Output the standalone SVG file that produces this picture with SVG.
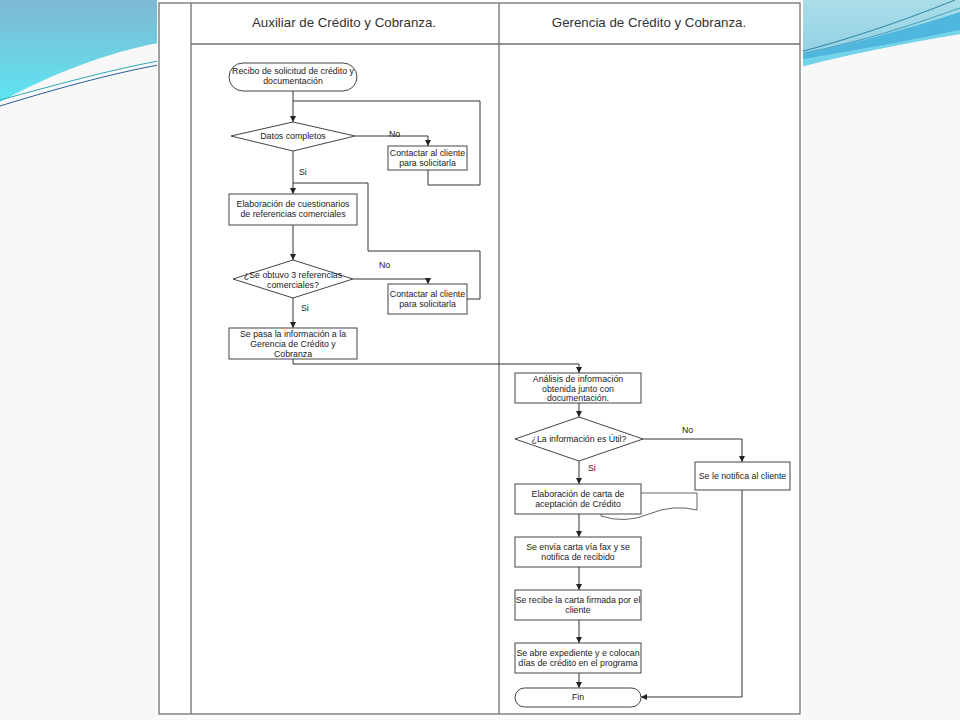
<svg xmlns="http://www.w3.org/2000/svg" width="960" height="720" viewBox="0 0 960 720">
<defs>
<linearGradient id="gl" x1="0" y1="0" x2="0" y2="1">
<stop offset="0" stop-color="#7fb8d2"/>
<stop offset="1" stop-color="#5de6f2"/>
</linearGradient>
<linearGradient id="gr" x1="0" y1="0" x2="0" y2="1">
<stop offset="0" stop-color="#a9dde8"/>
<stop offset="1" stop-color="#8fcfe4"/>
</linearGradient>
<marker id="ah" viewBox="0 0 10 10" refX="10" refY="5" markerWidth="6" markerHeight="6" markerUnits="userSpaceOnUse" orient="auto">
<path d="M0,0 L10,5 L0,10 Z" fill="#222"/>
</marker>
<style>
.frame{fill:none;stroke:#707070;stroke-width:1.3}
.node{fill:#fff;stroke:#444;stroke-width:1}
.doc{fill:#fff;stroke:#555;stroke-width:0.9}
.c{fill:none;stroke:#333;stroke-width:1}
.ca{fill:none;stroke:#333;stroke-width:1;marker-end:url(#ah)}
.hd{font-family:"Liberation Sans",Arial,sans-serif;font-size:13.3px;fill:#333;text-anchor:middle}
.t{font-family:"Liberation Sans",Arial,sans-serif;font-size:8.8px;fill:#222;text-anchor:middle}
.lb{font-family:"Liberation Sans",Arial,sans-serif;font-size:8.8px;fill:#222}
</style>
</defs>

<!-- slide background -->
<rect x="0" y="0" width="960" height="720" fill="#f8f8f8"/>
<path d="M0,0 H158 V43 C110,52 55,72 0,102 Z" fill="url(#gl)"/>
<path d="M0,100 C55,85 110,70 158,61" fill="none" stroke="#2aa7b6" stroke-width="1"/>
<path d="M0,106 C55,89 110,74 158,65" fill="none" stroke="#2b5c9c" stroke-width="1"/>
<path d="M800,0 H960 V34 C900,44 850,54 800,67 Z" fill="url(#gr)"/>
<path d="M800,55 C860,42 910,28 960,12 V30 C905,42 855,50 800,60 Z" fill="#4fb6dd"/>
<path d="M800,60 C855,50 905,42 960,30 V34 C900,44 850,54 800,67 Z" fill="#73d3e9"/>
<path d="M800,52 C860,36 910,18 955,0" fill="none" stroke="#1f7c9c" stroke-width="0.9"/>
<path d="M800,54 C870,40 920,22 960,8" fill="none" stroke="#2a8fb0" stroke-width="0.8"/>

<!-- diagram sheet -->
<rect x="157" y="0" width="646" height="718" fill="#fff"/>
<g id="frame">
<rect class="frame" x="159" y="3" width="641" height="711"/>
<line class="frame" x1="191" y1="3" x2="191" y2="714"/>
<line class="frame" x1="499" y1="3" x2="499" y2="714"/>
<line class="frame" x1="191" y1="44" x2="800" y2="44"/>
<text class="hd" x="344" y="27">Auxiliar de Crédito y Cobranza.</text>
<text class="hd" x="649" y="27">Gerencia de Crédito y Cobranza.</text>
</g>

<g id="connectors">
<path class="ca" d="M293,91 V122"/>
<path class="c" d="M428,170 V185 H480 V101 H293"/>
<path class="ca" d="M355,136 H428 V146"/>
<path class="ca" d="M293,151 V194"/>
<path class="c" d="M467,299 H480 V251 H368 V183 H293"/>
<path class="ca" d="M293,225 V260"/>
<path class="ca" d="M353,279 H428 V284"/>
<path class="ca" d="M293,298 V328"/>
<path class="ca" d="M293,359 V364 H579 V373"/>
<path class="ca" d="M579,403 V417"/>
<path class="ca" d="M643,439 H742 V462"/>
<path class="ca" d="M579,461 V484"/>
<path class="ca" d="M579,514 V537"/>
<path class="ca" d="M579,567 V590"/>
<path class="ca" d="M579,620 V643"/>
<path class="ca" d="M579,673 V688"/>
<path class="ca" d="M742,490 V697 H641"/>
<text class="lb" x="389" y="137">No</text>
<text class="lb" x="299" y="175">Si</text>
<text class="lb" x="379" y="268">No</text>
<text class="lb" x="301" y="311">Si</text>
<text class="lb" x="682" y="433">No</text>
<text class="lb" x="588" y="471">Si</text>
</g>

<g id="start">
<rect class="node" x="229" y="63" width="128" height="28" rx="14"/>
<text class="t" x="293" y="74">Recibo de solicitud de crédito y</text>
<text class="t" x="293" y="84">documentación</text>
</g>
<g id="datos">
<polygon class="node" points="231,136 293,122 355,136 293,151"/>
<text class="t" x="293" y="139">Datos completos</text>
</g>
<g id="contactar1">
<rect class="node" x="388" y="146" width="79" height="24"/>
<text class="t" x="427.5" y="156">Contactar al cliente</text>
<text class="t" x="427.5" y="166">para solicitarla</text>
</g>
<g id="cuestionarios">
<rect class="node" x="229" y="194" width="128" height="31"/>
<text class="t" x="293" y="207">Elaboración de cuestionarios</text>
<text class="t" x="293" y="217">de referencias comerciales</text>
</g>
<g id="referencias">
<polygon class="node" points="233,279 293,260 353,279 293,298"/>
<text class="t" x="293" y="278">¿Se obtuvo 3 referencias</text>
<text class="t" x="293" y="288">comerciales?</text>
</g>
<g id="contactar2">
<rect class="node" x="388" y="284" width="79" height="30"/>
<text class="t" x="427.5" y="297">Contactar al cliente</text>
<text class="t" x="427.5" y="307">para solicitarla</text>
</g>
<g id="pasa">
<rect class="node" x="229" y="328" width="128" height="31"/>
<text class="t" x="293" y="337">Se pasa la información a la</text>
<text class="t" x="293" y="347">Gerencia de Crédito y</text>
<text class="t" x="293" y="357">Cobranza</text>
</g>

<g id="analisis">
<rect class="node" x="515" y="373" width="126" height="30"/>
<text class="t" x="578" y="382">Análisis de información</text>
<text class="t" x="578" y="391.5">obtenida junto con</text>
<text class="t" x="578" y="401">documentación.</text>
</g>
<g id="util">
<polygon class="node" points="515,439 579,417 643,439 579,461"/>
<text class="t" x="579" y="442">¿La información es Útil?</text>
</g>
<g id="notifica">
<rect class="node" x="695" y="462" width="95" height="28"/>
<text class="t" x="742.5" y="479">Se le notifica al cliente</text>
</g>
<g id="carta">
<path class="doc" d="M601,516 V493 H697 V510 Q673,504 649,514 Q625,524 601,516 Z"/>
<rect class="node" x="515" y="484" width="126" height="30"/>
<text class="t" x="578" y="497">Elaboración de carta de</text>
<text class="t" x="578" y="507">aceptación de Crédito</text>
</g>
<g id="envia">
<rect class="node" x="515" y="537" width="126" height="30"/>
<text class="t" x="578" y="550">Se envía carta vía fax y se</text>
<text class="t" x="578" y="560">notifica de recibido</text>
</g>
<g id="recibe">
<rect class="node" x="515" y="590" width="126" height="30"/>
<text class="t" x="578" y="603">Se recibe la carta firmada por el</text>
<text class="t" x="578" y="613">cliente</text>
</g>
<g id="abre">
<rect class="node" x="515" y="643" width="126" height="30"/>
<text class="t" x="578" y="656">Se abre expediente y e colocan</text>
<text class="t" x="578" y="666">días de crédito en el programa</text>
</g>
<g id="fin">
<rect class="node" x="515" y="688" width="126" height="19" rx="9.5"/>
<text class="t" x="578" y="700">Fin</text>
</g>
</svg>
